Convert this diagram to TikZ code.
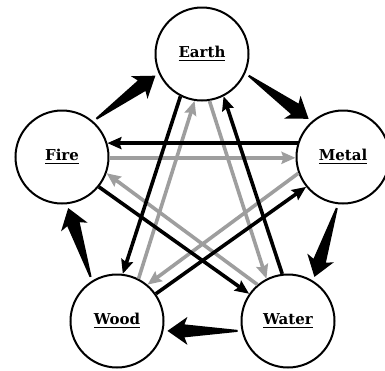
\documentclass[tikz,border=0pt]{standalone}
\usepackage{fontspec}
\setmainfont{DejaVu Serif}
\usetikzlibrary{calc}
\usetikzlibrary{arrows.meta}
\newcommand{\elname}[1]{\leavevmode\vtop{\hbox{#1}\kern1.8pt\hrule height1.5pt}}

\begin{document}
\begin{tikzpicture}[x=1pt,y=-1pt,
  element/.style={draw,circle,line width=2pt,minimum size=93pt,inner sep=0pt,
    font=\fontsize{15}{17}\selectfont\bfseries},
  insult/.style={draw,line width=3.6pt,-{Stealth[length=14pt,width=12pt,inset=2pt]}},
  overact/.style={insult,black!38}]
\useasboundingbox (0,0) rectangle (385,370);
\newcommand{\genarrow}[2]{
  \coordinate (gt) at ($#1!4pt!#2$);
  \coordinate (gh) at ($#2!4pt!#1$);
  \coordinate (gj) at ($(gh)!17pt!(gt)$);
  \coordinate (gb) at ($(gh)!20pt!(gt)$);
  \fill ($(gt)!1pt!90:(gh)$) -- ($(gj)!6.5pt!90:(gh)$) -- ($(gb)!14pt!90:(gh)$)
    -- (gh) -- ($(gb)!14pt!-90:(gh)$) -- ($(gj)!6.5pt!-90:(gh)$)
    -- ($(gt)!1pt!-90:(gh)$) -- cycle;
}

% ---------- the five elements ----------
\node[element] (earth) at (202,54)  {\elname{Earth}};
\node[element] (fire)  at (62,157)  {\elname{Fire}};
\node[element] (metal) at (343,157) {\elname{Metal}};
\node[element] (wood)  at (117,321) {\elname{Wood}};
\node[element] (water) at (288,321) {\elname{Water}};

% ---------- outer cycle ----------
\genarrow{(fire.49)}{(earth.204)}
\genarrow{(earth.336)}{(metal.131)}
\genarrow{(metal.264)}{(water.58)}
\genarrow{(water.192)}{(wood.-12)}
\genarrow{(wood.122)}{(fire.276)}

% ---------- inner star, gray ----------
\draw[overact] (fire.-1)   -- (metal.181);
\draw[overact] (wood.63)   -- (earth.261);
\draw[overact] (earth.279) -- (water.117);
\draw[overact] (water.130) -- (fire.-20);
\draw[overact] (metal.200) -- (wood.50);

% ---------- inner star, black ----------
\draw[insult] (metal.163)  -- (fire.17);
\draw[insult] (earth.243)  -- (wood.83);
\draw[insult] (water.97)   -- (earth.297);
\draw[insult] (fire.-39)   -- (water.145);
\draw[insult] (wood.35)    -- (metal.219);
\end{tikzpicture}
\end{document}
